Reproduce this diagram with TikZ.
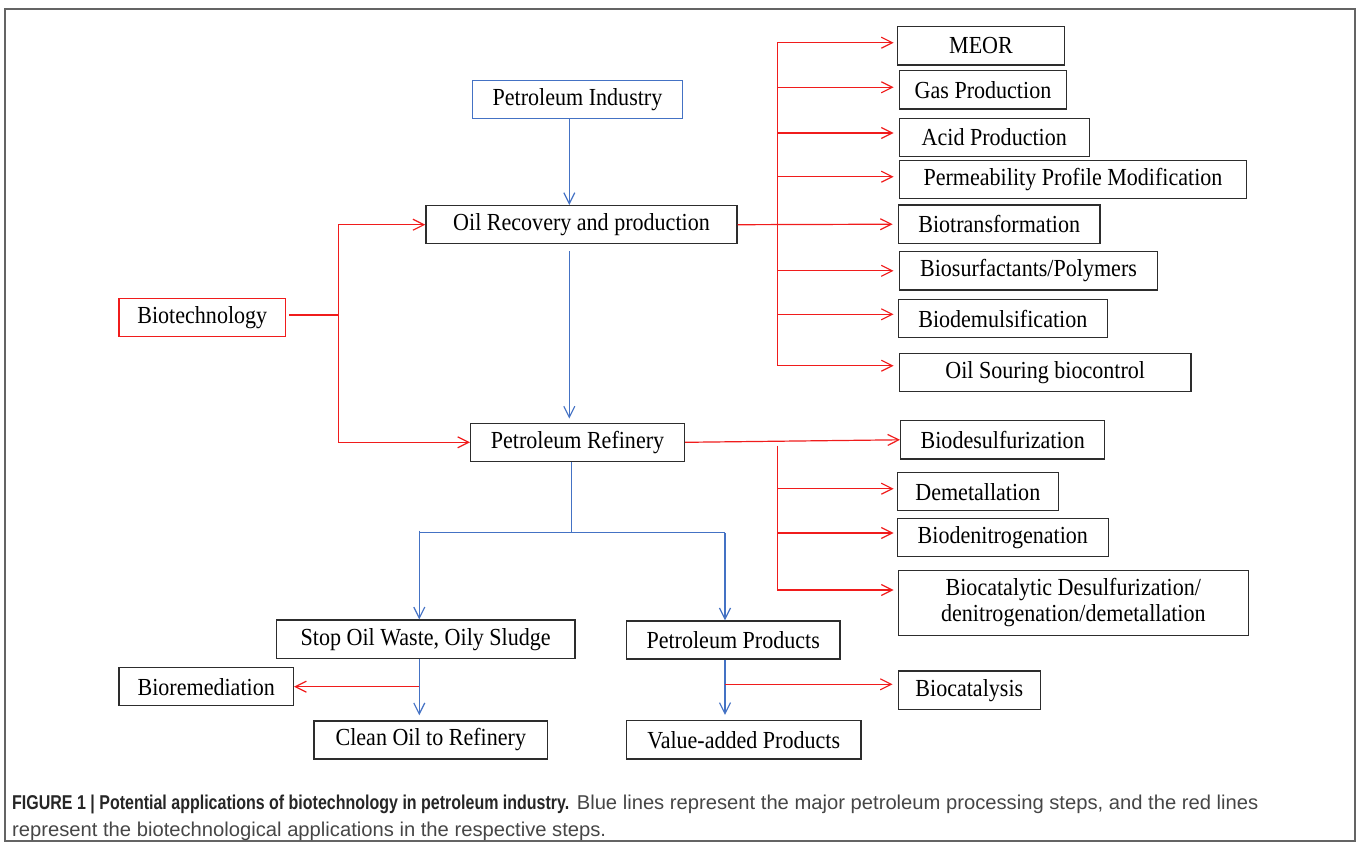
\documentclass[tikz,border=0pt]{standalone}
\usepackage{fontspec}
\setmainfont{Liberation Serif}[FakeStretch=0.9]
\newfontfamily\capfont{Liberation Sans}[FakeStretch=1.01]
\newfontfamily\capbf{Liberation Sans}[FakeStretch=0.8]
\usetikzlibrary{arrows.meta}
\definecolor{bl}{RGB}{68,114,196}
\definecolor{rd}{RGB}{240,28,28}
\definecolor{bx}{RGB}{45,45,45}
\definecolor{fr}{RGB}{100,100,100}
\definecolor{capgray}{RGB}{70,70,70}
\tikzset{
  box/.style={draw=bx, line width=1.4pt, inner sep=0pt, align=center, font=\fontsize{24.5}{26}\selectfont},
  bline/.style={draw=bl, line width=1.2pt},
  rline/.style={draw=rd, line width=1.2pt},
  tipv/.style={-{Straight Barb[length=11pt,width=11pt]}},
  captext/.style={anchor=base west, inner sep=0pt, font=\capfont\fontsize{20}{22}\selectfont, text=capgray}
}
\begin{document}
\begin{tikzpicture}[x=1pt,y=-1pt]
\useasboundingbox (0,0) rectangle (1360,847);
\draw[fr, line width=1.5pt] (5,9) rectangle (1355,841);

% main column
\node[box, draw=bl, minimum width=210.4pt, minimum height=38pt] (pi) at (577.5,99.7) {Petroleum Industry};
\node[box, minimum width=311pt, minimum height=38pt] (orp) at (581.5,224.7) {Oil Recovery and production};
\node[box, draw=rd, minimum width=166.7pt, minimum height=38.4pt] (bt) at (202.3,317.5) {Biotechnology};
\node[box, minimum width=213.6pt, minimum height=38pt] (pr) at (577.5,442.3) {Petroleum Refinery};
\node[box, minimum width=298.7pt, minimum height=38.3pt] (so) at (425.7,639.2) {Stop Oil Waste, Oily Sludge};
\node[box, minimum width=213.7pt, minimum height=38pt] (pp) at (733.2,640) {Petroleum Products};
\node[box, minimum width=174.3pt, minimum height=38pt] (br) at (206.2,686.7) {Bioremediation};
\node[box, minimum width=233.7pt, minimum height=38pt] (co) at (430.8,740) {Clean Oil to Refinery};
\node[box, minimum width=234.7pt, minimum height=38.3pt] (va) at (743.7,739.8) {Value-added Products};

% right column
\node[box, minimum width=167.4pt, minimum height=38.3pt] (meor) at (981,45.8) {MEOR};
\node[box, minimum width=167.4pt, minimum height=38.3pt] (gas) at (983,89.8) {Gas Production};
\node[box, minimum width=190pt, minimum height=38pt] (acid) at (994.3,137.3) {Acid Production};
\node[box, minimum width=347.4pt, minimum height=38.4pt] (perm) at (1073,179.5) {Permeability Profile Modification};
\node[box, minimum width=201.7pt, minimum height=38.3pt] (btf) at (999.2,224.2) {Biotransformation};
\node[box, minimum width=258.4pt, minimum height=38.3pt] (bsp) at (1028.5,270.8) {Biosurfactants/Polymers};
\node[box, minimum width=209pt, minimum height=38.4pt] (bdm) at (1002.8,318.5) {Biodemulsification};
\node[box, minimum width=291.7pt, minimum height=38.4pt] (osb) at (1045.2,372.5) {Oil Souring biocontrol};
\node[box, minimum width=204pt, minimum height=38.3pt] (bds) at (1002.7,439.8) {Biodesulfurization};
\node[box, minimum width=161pt, minimum height=38pt] (dmt) at (977.8,491.7) {Demetallation};
\node[box, minimum width=211pt, minimum height=38.4pt] (bdn) at (1002.8,537.5) {Biodenitrogenation};
\node[box, minimum width=350pt, minimum height=64.6pt] (bcd) at (1073.3,603) {Biocatalytic Desulfurization/\\denitrogenation/demetallation};
\node[box, minimum width=142pt, minimum height=38.3pt] (bcs) at (969.3,690.2) {Biocatalysis};

% helper coordinates
\coordinate (vb1) at (569.3,0);
\coordinate (sp) at (571.3,532.7);
\coordinate (jl) at (419.3,532.7);
\coordinate (jr) at (725,532.7);
\coordinate (rv) at (338.7,315);
\coordinate (vt) at (777.3,0);
\coordinate (vt2) at (777.3,445.7);

% blue process lines
\draw[bline,tipv] (pi.south -| vb1) -- (orp.north -| vb1);
\draw[bline,tipv,shorten <=7pt,shorten >=4pt] (orp.south -| vb1) -- (pr.north -| vb1);
\draw[bline] (pr.south -| sp) -- (sp);
\draw[bline] (jl) -- (jr);
\draw[bline,tipv] ([yshift=2pt]jl) -- (so.north -| jl);
\draw[bline,tipv] (jr) -- (pp.north -| jr);
\draw[bline,tipv,shorten >=5pt] (so.south -| jl) -- (co.north -| jl);
\draw[bline,tipv,shorten >=5pt] (pp.south -| jr) -- (va.north -| jr);

% red biotechnology lines
\draw[rline,shorten <=2.5pt] (rv -| bt.east) -- (rv);
\draw[rline,tipv] (rv) |- (orp.west);
\draw[rline,tipv] (rv) |- (pr.west);
\draw[rline,tipv] (orp.east) -- ([xshift=-5pt]btf.west);
\draw[rline] ([yshift=3.1pt]meor.west -| vt) -- ([yshift=6.8pt]osb.west -| vt);
\foreach \n/\dy/\dx in {meor/3.1/3, gas/2.5/5, acid/4.3/5, perm/2.8/5, bsp/0/5, bdm/4.2/4, osb/6.8/5}
  \draw[rline,tipv] ([yshift=\dy pt]\n.west -| vt) -- ([yshift=\dy pt,xshift=-\dx pt]\n.west);
\draw[rline,tipv] (pr.east) -- (bds.west);
\draw[rline] (vt2) -- ([yshift=13pt]bcd.west -| vt2);
\foreach \n/\dy/\dx in {dmt/3/3, bdn/4.5/3, bcd/13/4}
  \draw[rline,tipv] ([yshift=\dy pt]\n.west -| vt2) -- ([yshift=\dy pt,xshift=-\dx pt]\n.west);
\draw[rline,tipv] ([yshift=5.9pt]bcs.west -| jr) -- ([yshift=5.9pt,xshift=-5pt]bcs.west);
\draw[rline,tipv] (br.east -| jl) -- (br.east);

% caption
\node[captext] (cap1) at (12,809) {{\capbf\bfseries\color{black!85}FIGURE 1 | Potential applications of biotechnology in petroleum industry.} Blue lines represent the major petroleum processing steps, and the red lines};
\node[captext] (cap2) at (12,836) {represent the biotechnological applications in the respective steps.};
\end{tikzpicture}
\end{document}
